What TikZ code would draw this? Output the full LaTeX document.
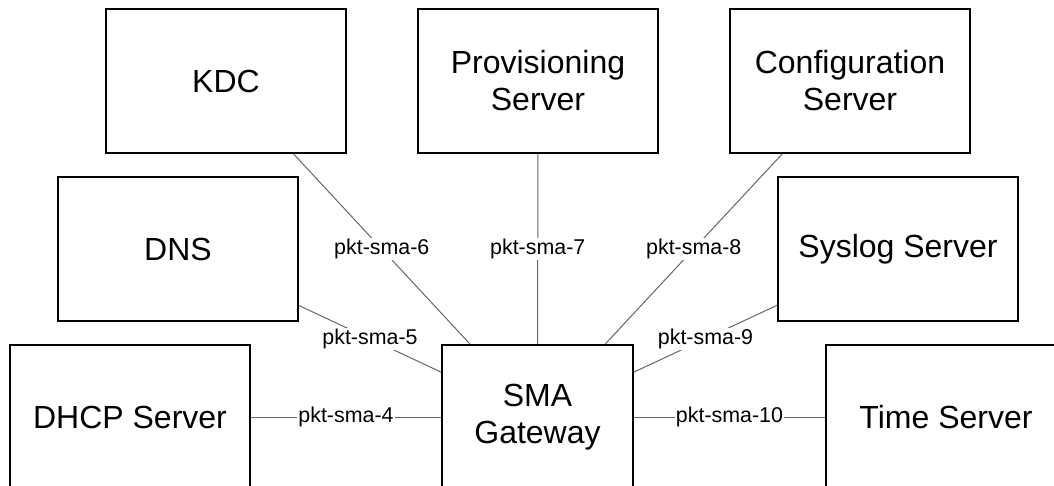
\documentclass[tikz,border=0pt]{standalone}
\usepackage{fontspec}
\setmainfont{Liberation Sans}
\usetikzlibrary{positioning}

\begin{document}
\begin{tikzpicture}[x=1bp, y=-1bp,
    box/.style={draw, line width=2bp, minimum width=240bp,
                minimum height=144bp, align=center,
                font=\fontsize{32bp}{37bp}\selectfont},
    link/.style={draw=black!60, line width=1bp},
    lbl/.style={fill=white, inner sep=1bp,
                font=\fontsize{21.4bp}{25bp}\selectfont}]
  \clip (0,0) rectangle (1054,486);

  % servers round the gateway
  \node[box] (kdc)    at (226,81)  {KDC};
  \node[box] (prov)   at (538,81)  {Provisioning\\Server};
  \node[box] (config) at (850,81)  {Configuration\\Server};
  \node[box] (dns)    at (178,249) {DNS};
  \node[box] (syslog) at (898,249) {Syslog Server};
  \node[box] (dhcp)   at (130,417) {DHCP Server};
  \node[box] (timesrv) at (946,417) {Time Server};
  \node[box, minimum width=191bp] (sma) at (537.5,417)
    {SMA\\Gateway};

  \draw[link] (dhcp)    -- node[lbl] {pkt-sma-4}  (sma);
  \draw[link] (dns)     -- node[lbl] {pkt-sma-5}  (sma);
  \draw[link] (kdc)     -- node[lbl] {pkt-sma-6}  (sma);
  \draw[link] (prov)    -- node[lbl] {pkt-sma-7}  (sma);
  \draw[link] (config)  -- node[lbl] {pkt-sma-8}  (sma);
  \draw[link] (syslog)  -- node[lbl] {pkt-sma-9}  (sma);
  \draw[link] (timesrv) -- node[lbl] {pkt-sma-10} (sma);
\end{tikzpicture}
\end{document}
